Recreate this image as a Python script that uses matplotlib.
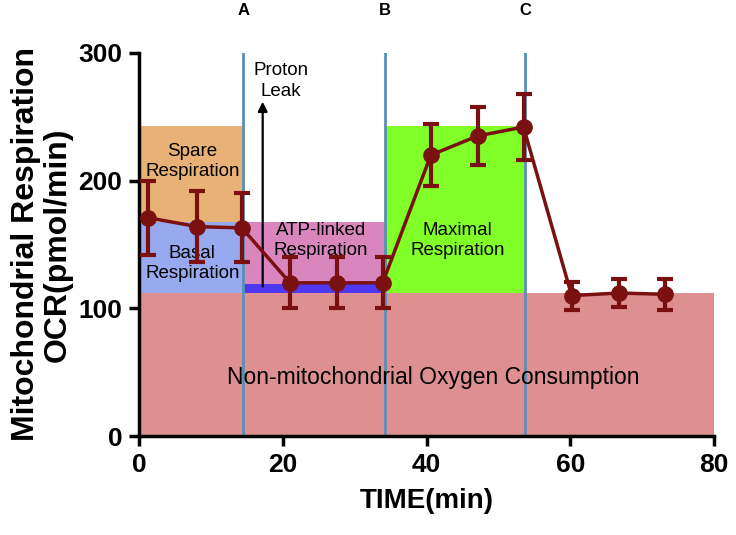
import matplotlib.pyplot as plt
from matplotlib.patches import Rectangle

plt.rcParams['font.family'] = ['Liberation Sans', 'DejaVu Sans']

# measurement times (min), OCR means and SD
zeit = [1.2, 8.1, 14.3, 21.0, 27.6, 33.9, 40.6, 47.1, 53.5, 60.2, 66.8, 73.2]
ocr = [171, 164, 163, 120, 120, 120, 220, 235, 242, 110, 112, 111]
fehler = [29, 28, 27, 20, 20, 20, 24, 23, 26, 11, 11, 12]

# injection times A, B, C
injektionen = [14.5, 34.2, 53.7]
injektion_namen = ['A', 'B', 'C']

# coloured regions: (x0, x1, y0, y1, colour)
non_mito = 112
basal_top = 168
leak_top = 119
max_top = 243
regionen = [
    (0, 80, 0, non_mito, '#DE8F8F'),
    (0, injektionen[0], basal_top, max_top, '#E8B277'),
    (0, injektionen[0], non_mito, basal_top, '#97AAF0'),
    (injektionen[0], injektionen[1], leak_top, basal_top, '#DA86BE'),
    (injektionen[0], injektionen[1], non_mito, leak_top, '#5038F0'),
    (injektionen[1], injektionen[2], non_mito, max_top, '#80FF28'),
]


def main():
    fig = plt.figure(figsize=(7.36, 5.35), dpi=100)
    ax = fig.add_axes([0.189, 0.185, 0.781, 0.716])

    for x0, x1, y0, y1, farbe in regionen:
        ax.add_patch(Rectangle((x0, y0), x1 - x0, y1 - y0, facecolor=farbe,
                               edgecolor='none', zorder=1))

    for x, name in zip(injektionen, injektion_namen):
        ax.axvline(x, color='#5A8FB4', lw=2, zorder=2)
        ax.text(x, 1.11, name, transform=ax.get_xaxis_transform(), ha='center',
                va='center', fontsize=12, fontweight='bold')

    # Beschriftungen der Bereiche
    kw = dict(ha='center', va='center', fontsize=13.5, linespacing=1.25, zorder=3)
    ax.text(7.4, 215, 'Spare\nRespiration', **kw)
    ax.text(7.4, 135, 'Basal\nRespiration', **kw)
    ax.text(25.3, 153, 'ATP-linked\nRespiration', **kw)
    ax.text(44.3, 153, 'Maximal\nRespiration', **kw)
    ax.text(19.7, 278, 'Proton\nLeak', **kw)
    ax.text(41, 46, 'Non-mitochondrial Oxygen Consumption', ha='center', va='center',
            fontsize=16.5, zorder=3)
    ax.annotate('', xy=(17.2, 264), xytext=(17.2, 115),
                arrowprops=dict(arrowstyle='-|>', color='black', lw=1.6,
                                mutation_scale=14), zorder=3)

    ax.errorbar(zeit, ocr, yerr=fehler, color='#7A1010', lw=2.5, marker='o',
                markersize=11, capsize=6, capthick=3, elinewidth=3, zorder=5)

    ax.set_xlim(0, 80)
    ax.set_ylim(0, 300)
    ax.set_xticks([0, 20, 40, 60, 80])
    ax.set_yticks([0, 100, 200, 300])
    for s in ['top', 'right']:
        ax.spines[s].set_visible(False)
    for s in ['left', 'bottom']:
        ax.spines[s].set_linewidth(2.5)
    ax.tick_params(width=2.5, length=7, labelsize=19, pad=5)
    for lab in ax.get_xticklabels() + ax.get_yticklabels():
        lab.set_fontweight('bold')
    ax.set_xlabel('TIME(min)', fontsize=20, fontweight='bold', labelpad=8)
    ax.set_ylabel('Mitochondrial Respiration\nOCR(pmol/min)', fontsize=23,
                  fontweight='bold', labelpad=4, linespacing=1.1)

    plt.savefig('out.png', dpi=100)


if __name__ == "__main__":
    main()
